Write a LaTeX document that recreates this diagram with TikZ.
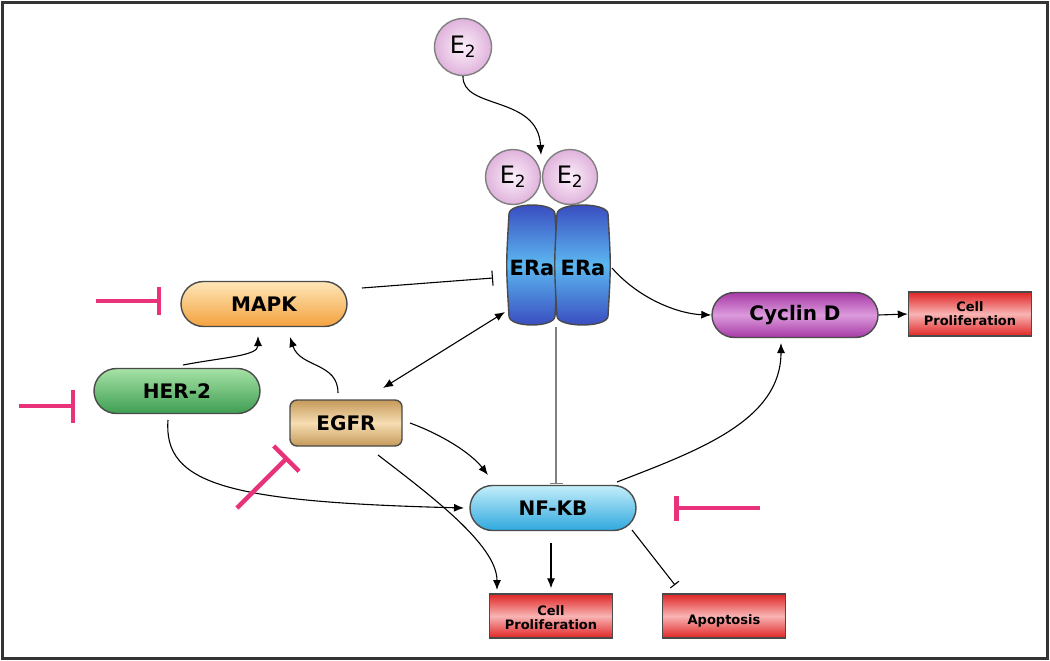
\documentclass[tikz,border=0pt]{standalone}
\usepackage{fontspec}
\setmainfont{DejaVu Sans}
\usetikzlibrary{arrows.meta,shapes.misc}
\definecolor{inhpink}{HTML}{E8337A}
\definecolor{edgegray}{HTML}{4A4A4A}
\definecolor{mapkT}{HTML}{FFE6B8}
\definecolor{mapkB}{HTML}{F3A23E}
\definecolor{herT}{HTML}{A6E2A6}
\definecolor{herB}{HTML}{3E9E52}
\definecolor{egfrE}{HTML}{C69A5A}
\definecolor{egfrM}{HTML}{F6DDB2}
\definecolor{cycE}{HTML}{A63AA6}
\definecolor{cycM}{HTML}{DC9ADC}
\definecolor{nfT}{HTML}{C4EEFA}
\definecolor{nfB}{HTML}{2FA8DE}
\definecolor{redE}{HTML}{E02424}
\definecolor{redM}{HTML}{F8B4B4}
\definecolor{eraE}{HTML}{3848BE}
\definecolor{eraM}{HTML}{5CB8F0}
\definecolor{e2In}{HTML}{FBF0FA}
\definecolor{e2Out}{HTML}{E0B2DC}
\begin{document}
\begin{tikzpicture}[x=1pt,y=-1pt,
  lbl/.style={font=\bfseries\fontsize{20}{22}\selectfont, text=black, inner sep=0pt},
  eralbl/.style={font=\bfseries\fontsize{21}{23}\selectfont, text=black, inner sep=0pt},
  pill/.style={rounded rectangle, draw=edgegray, line width=1.4pt, minimum width=166pt, minimum height=45pt, lbl},
  outbox/.style={rectangle, draw=edgegray, line width=1.4pt, minimum width=123pt, minimum height=44pt,
     top color=redE, bottom color=redE, middle color=redM, align=center, inner sep=0pt,
     font=\bfseries\fontsize{13}{14}\selectfont},
  ecircle/.style={circle, draw=edgegray!70, line width=1.4pt, minimum size=57pt, inner sep=0pt,
     inner color=e2In, outer color=e2Out, font=\fontsize{24}{26}\selectfont},
  barrel/.style={draw=edgegray, line width=1.4pt, top color=eraE, bottom color=eraE, middle color=eraM},
  act/.style={draw=black, line width=1.1pt, -{Latex[length=10pt,width=8pt]}},
  inh/.style={draw=black, line width=1.1pt, -{Bar[width=15pt]}},
  pinkinh/.style={draw=inhpink, line width=4.5pt, -{Bar[width=28pt]}}
]
\useasboundingbox (0,0) rectangle (1050,661);
\fill[white] (0,0) rectangle (1050,661);
\draw[edgegray!70!black, line width=3pt] (2.5,2.5) rectangle (1047.5,658.5);

% E2 ligands
\node[ecircle] (e2top) at (463,47) {E\textsubscript{2}};
\node[ecircle, minimum size=55pt] (e2a) at (513,177) {E\textsubscript{2}};
\node[ecircle, minimum size=55pt] (e2b) at (570,177) {E\textsubscript{2}};
\coordinate (bind) at (541,155);

% ER alpha barrels
\draw[barrel] (509,214) .. controls (509,202) and (555,202) .. (555,214)
   .. controls (558,265) .. (555,316)
   .. controls (555,328) and (509,328) .. (509,316)
   .. controls (506,265) .. cycle;
\draw[barrel] (557,214) .. controls (557,202) and (608,202) .. (608,214)
   .. controls (611,265) .. (608,316)
   .. controls (608,328) and (557,328) .. (557,316)
   .. controls (554,265) .. cycle;
\node[eralbl] (era1) at (532,268) {ERa};
\node[eralbl] (era2) at (583,268) {ERa};

% main nodes
\node[pill, top color=mapkT, bottom color=mapkB] (mapk) at (264,304) {MAPK};
\node[pill, top color=herT, bottom color=herB] (her2) at (177,391) {HER-2};
\node[rectangle, rounded corners=7pt, draw=edgegray, line width=1.4pt, minimum width=112pt, minimum height=46pt,
      top color=egfrE, bottom color=egfrE, middle color=egfrM, lbl] (egfr) at (346,423) {EGFR};
\node[pill, top color=cycE, bottom color=cycE, middle color=cycM] (cyclin) at (795,315) {Cyclin D};
\node[pill, top color=nfT, bottom color=nfB] (nfkb) at (553,508) {NF-KB};
\node[outbox] (cellR) at (970,314) {Cell\\Proliferation};
\node[outbox, text depth=0pt] (cellB) at (551,616) {\\[-2pt]Cell\\Proliferation};
\node[outbox, text height=20pt, text depth=3pt] (apop) at (724,616) {Apoptosis};

% coordinates for free ends
\coordinate (mapkOut) at (362,288);
\coordinate (eraIn) at (493,278);
\coordinate (eraLow) at (505,312);
\coordinate (egfrUp) at (383,388);
\coordinate (eraRight) at (612,268);
\coordinate (eraBase) at (556,327);
\coordinate (nfTop) at (556,484);
\coordinate (herTop) at (183,365);
\coordinate (mapkLow) at (258,336);
\coordinate (egfrTop) at (338,393);
\coordinate (mapkLow2) at (290,337);
\coordinate (herBot) at (168,420);
\coordinate (nfLeft) at (464,508);
\coordinate (egfrRight) at (410,423);
\coordinate (nfUL) at (488,475);
\coordinate (egfrBot) at (378,455);
\coordinate (cellBtop) at (497,590);
\coordinate (nfUR) at (617,482);
\coordinate (cycBot) at (781,343);
\coordinate (nfLR) at (632,530);
\coordinate (apopIn) at (675,585);

% connectors
\draw[act] (e2top.south) .. controls (462,110) and (538,95) .. (bind);
\draw[inh] (mapkOut) -- (eraIn);
\draw[act, {Latex[length=10pt,width=8pt]}-{Latex[length=10pt,width=8pt]}] (eraLow) -- (egfrUp);
\draw[act] (eraRight) .. controls (640,300) and (680,314) .. (cyclin.west);
\draw[draw=gray, line width=1.5pt, -{Bar[width=13pt]}] (eraBase) -- (nfTop);
\draw[act] (cyclin.east) -- (cellR.west);
\draw[act] (herTop) .. controls (225,357) and (258,356) .. (mapkLow);
\draw[act] (egfrTop) .. controls (338,362) and (300,368) .. (mapkLow2);
\draw[act] (herBot) .. controls (163,485) and (230,502) .. (nfLeft);
\draw[act] (egfrRight) .. controls (440,434) and (470,452) .. (nfUL);
\draw[act] (egfrBot) .. controls (430,495) and (497,545) .. (cellBtop);
\draw[act] (nfUR) .. controls (700,450) and (781,420) .. (cycBot);
\draw[act, shorten <=12pt, shorten >=5pt] (nfkb.south -| cellB.north) -- (cellB.north);
\draw[inh, -{Bar[width=11pt]}] (nfLR) -- (apopIn);

% pink inhibitors
\coordinate (p1a) at (96,301);  \coordinate (p1b) at (161,301);
\coordinate (p2a) at (19,406);  \coordinate (p2b) at (75,406);
\coordinate (p3a) at (237,508); \coordinate (p3b) at (288,457);
\coordinate (p4a) at (760,508); \coordinate (p4b) at (674,508);
\draw[pinkinh] (p1a) -- (p1b);
\draw[pinkinh, -{Bar[width=33pt]}] (p2a) -- (p2b);
\draw[pinkinh, -{Bar[width=36pt]}] (p3a) -- (p3b);
\draw[pinkinh, -{Bar[width=25pt]}] (p4a) -- (p4b);
\end{tikzpicture}
\end{document}
